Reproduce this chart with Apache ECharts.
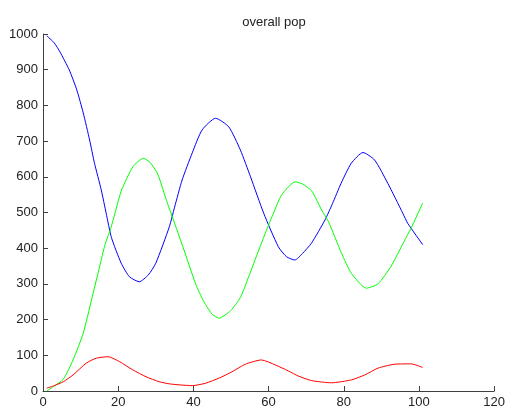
<!DOCTYPE html>
<html>
<head>
<meta charset="utf-8">
<script src="https://cdn.jsdelivr.net/npm/echarts@6/dist/echarts.min.js"></script>
<style>html,body{margin:0;padding:0;background:#fff}#c{width:508px;height:409px}</style>
</head>
<body>
<div id="c"></div>
<script>
var title = 'overall pop';
var xTicks = [0, 20, 40, 60, 80, 100, 120];
var yTicks = [0, 100, 200, 300, 400, 500, 600, 700, 800, 900, 1000];

var blueX = [1, 3, 4.5, 7, 9, 10.7, 12.4, 13.7, 15.5, 16.8, 18.2, 20.8, 23, 25.6, 28, 30, 33.6, 35, 37, 39.7, 42.3, 45.9, 49.4, 52.5, 55.2, 58.7, 62.6, 64.8, 67, 69, 71.4, 75, 77, 79.3, 82, 85.1, 88.2, 91.7, 95.7, 97, 101];
var blueY = [995, 975, 950, 899, 843, 779, 703, 638, 563, 498, 430, 358, 320, 306, 325, 358, 460, 515, 591, 667, 731, 764, 740, 675, 600, 498, 404, 376, 367, 385, 414, 479, 525, 582, 638, 668, 647, 582, 498, 470, 410];

var greenX = [1, 3, 5.4, 8, 10.7, 12.9, 15.1, 16.5, 18, 19.2, 20.8, 23.9, 26.7, 28.5, 30.5, 33.1, 34.4, 37.5, 40.6, 42.8, 45, 46.8, 49.9, 52.5, 54.7, 57.4, 60, 61.3, 63.5, 67.1, 69, 71.5, 74.1, 75.9, 79.4, 82, 86, 89.1, 92.6, 96.1, 98.3, 101];
var greenY = [0, 14, 33, 87, 162, 255, 350, 410, 455, 500, 560, 628, 652, 640, 608, 526, 488, 395, 300, 250, 215, 204, 225, 262, 320, 395, 465, 498, 550, 586, 580, 560, 507, 475, 386, 330, 288, 300, 350, 420, 465, 527];

var redX = [1, 3, 5.4, 8, 11.5, 14.2, 17.3, 20.4, 23.9, 27.4, 30.9, 33.6, 36.5, 39.7, 43.3, 46.8, 50.3, 53.8, 58.1, 61.8, 65.3, 67.9, 71.5, 76.7, 82, 85.6, 89.1, 93.5, 97.9, 101];
var redY = [8, 15, 26, 45, 78, 92, 96, 82, 59, 40, 26, 20, 17, 15, 22, 36, 54, 75, 87, 73, 56, 42, 29, 23, 31, 45, 64, 75, 76, 66];

function pairs(xs, ys) { return xs.map(function (x, i) { return [x, ys[i]]; }); }

var axisCol = '#404040';
var labelStyle = { color: '#222', fontSize: 13, fontFamily: 'Liberation Sans, Arial, sans-serif' };

var chart = echarts.init(document.getElementById('c'), null, { renderer: 'canvas' });
chart.setOption({
  animation: false,
  backgroundColor: '#fff',
  title: {
    text: title, left: 269, top: 11, textAlign: 'center',
    textStyle: { fontSize: 13, fontWeight: 'normal', color: '#222', fontFamily: 'Liberation Sans, Arial, sans-serif' }
  },
  grid: { left: 43, right: 11, top: 34, bottom: 18, containLabel: false },
  xAxis: {
    type: 'value', min: xTicks[0], max: xTicks[xTicks.length - 1], interval: 20,
    axisLine: { show: true, onZero: false, lineStyle: { color: axisCol, width: 1 } },
    axisTick: { show: true, inside: true, length: 5, lineStyle: { color: axisCol } },
    splitLine: { show: false },
    axisLabel: Object.assign({ margin: 5, formatter: function (v) { return String(v); } }, labelStyle)
  },
  yAxis: {
    type: 'value', min: yTicks[0], max: yTicks[yTicks.length - 1], interval: 100,
    axisLine: { show: true, onZero: false, lineStyle: { color: axisCol, width: 1 } },
    axisTick: { show: true, inside: true, length: 5, lineStyle: { color: axisCol } },
    splitLine: { show: false },
    axisLabel: Object.assign({ margin: 5, formatter: function (v) { return String(v); } }, labelStyle)
  },
  series: [
    { type: 'line', data: pairs(blueX, blueY), smooth: 0.2, showSymbol: false, lineStyle: { color: '#0000ff', width: 1 } },
    { type: 'line', data: pairs(greenX, greenY), smooth: 0.2, showSymbol: false, lineStyle: { color: '#00ff00', width: 1 } },
    { type: 'line', data: pairs(redX, redY), smooth: 0.2, showSymbol: false, lineStyle: { color: '#ff0000', width: 1 } }
  ]
});
</script>
</body>
</html>
